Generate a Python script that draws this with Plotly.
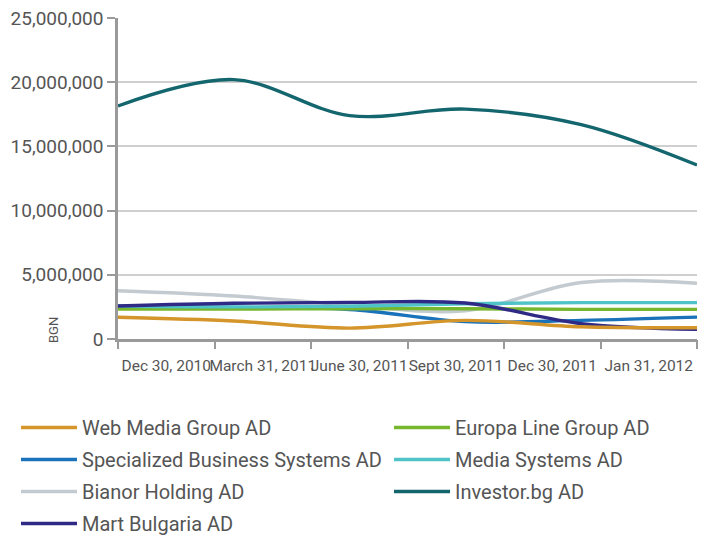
import plotly.graph_objects as go

categories = ["Dec 30, 2010", "March 31, 2011", "June 30, 2011", "Sept 30, 2011", "Dec 30, 2011", "Jan 31, 2012"]

web_media = [1690000, 1400000, 850000, 1450000, 950000, 880000]
europa_line = [2340000, 2330000, 2360000, 2360000, 2310000, 2310000]
specialized = [2450000, 2450000, 2300000, 1350000, 1450000, 1700000]
media_systems = [2570000, 2500000, 2550000, 2750000, 2830000, 2830000]
bianor = [3760000, 3350000, 2650000, 2200000, 4400000, 4340000]
investor = [18150000, 20200000, 17400000, 17900000, 16700000, 13550000]
mart = [2570000, 2780000, 2850000, 2800000, 1200000, 750000]

y_ticks = [0, 5000000, 10000000, 15000000, 20000000, 25000000]
y_tick_text = ["0", "5,000,000", "10,000,000", "15,000,000", "20,000,000", "25,000,000"]

# name, values, colour, legend column
series = [
    ("Web Media Group AD", web_media, "#D4952B", "legend"),
    ("Europa Line Group AD", europa_line, "#77B72E", "legend2"),
    ("Specialized Business Systems AD", specialized, "#1A72BB", "legend"),
    ("Media Systems AD", media_systems, "#4FC3C7", "legend2"),
    ("Bianor Holding AD", bianor, "#C3CAD0", "legend"),
    ("Investor.bg AD", investor, "#14666E", "legend2"),
    ("Mart Bulgaria AD", mart, "#2E2A85", "legend"),
]
draw_order = ["Bianor Holding AD", "Specialized Business Systems AD", "Europa Line Group AD",
              "Media Systems AD", "Mart Bulgaria AD", "Web Media Group AD", "Investor.bg AD"]

n = len(categories)
xs = list(range(n))
span = n - 1
band = span / n

fig = go.Figure()
names = [s[0] for s in series]
for name, vals, col, leg in series:
    fig.add_trace(go.Scatter(
        x=xs, y=vals, mode="lines", name=name, legend=leg, legendgroup=name,
        line=dict(color=col, width=3.4, shape="spline", smoothing=1.0),
        legendrank=names.index(name) + 1,
    ))
fig.data = tuple(sorted(fig.data, key=lambda t: draw_order.index(t.name)))

text_font = "Roboto, 'DejaVu Sans', sans-serif"
txt_col = "#555555"

legend_common = dict(
    orientation="v", yanchor="top", xanchor="left", itemwidth=56,
    font=dict(size=20, color=txt_col, family=text_font),
    traceorder="grouped", tracegroupgap=3, bgcolor="rgba(0,0,0,0)", borderwidth=0,
)

fig.update_layout(
    width=707, height=536,
    margin=dict(l=118, r=10, t=18, b=197, autoexpand=False),
    paper_bgcolor="white", plot_bgcolor="white",
    font=dict(family=text_font, color=txt_col),
    showlegend=True,
    legend=dict(x=(16 - 118) / 579, y=(339 - 408) / 321, **legend_common),
    legend2=dict(x=(389 - 118) / 579, y=(339 - 408) / 321, **legend_common),
    xaxis=dict(
        range=[0, span], tickmode="array",
        tickvals=[(i + 0.5) * band for i in range(n)], ticktext=categories,
        tickangle=0, ticks="", showgrid=False, zeroline=False, showline=True,
        linecolor="#9a9a9a", linewidth=2.5, ticklabelstandoff=11,
        tickfont=dict(size=15.5, color=txt_col, family=text_font),
    ),
    xaxis2=dict(
        range=[0, span], overlaying="x", anchor="y", side="bottom",
        tickmode="array", tickvals=[i * band for i in range(n + 1)],
        showticklabels=False, ticks="outside", ticklen=9, tickwidth=2,
        tickcolor="#9a9a9a", showgrid=False, zeroline=False, showline=False,
    ),
    yaxis=dict(
        range=[0, 25000000], tickmode="array", tickvals=y_ticks, ticktext=y_tick_text,
        ticks="outside", ticklen=8, tickwidth=2, tickcolor="#9a9a9a",
        showgrid=True, gridcolor="#cfcfcf", gridwidth=1.5,
        zeroline=False, showline=True, linecolor="#9a9a9a", linewidth=2.5,
        tickfont=dict(size=19, color=txt_col, family=text_font),
    ),
    annotations=[dict(
        text="BGN", textangle=-90, xref="paper", yref="paper",
        x=(53 - 118) / 579, y=(339 - 330) / 321, xanchor="center", yanchor="middle",
        showarrow=False, font=dict(size=13, color=txt_col, family=text_font),
    )],
)
fig.add_trace(go.Scatter(x=[0], y=[0], xaxis="x2", mode="markers",
                         marker=dict(opacity=0), showlegend=False, hoverinfo="skip"))

fig.write_html("out.html", config={"displayModeBar": False},
               post_script="document.body.style.margin='0px';document.body.style.overflow='hidden';")
